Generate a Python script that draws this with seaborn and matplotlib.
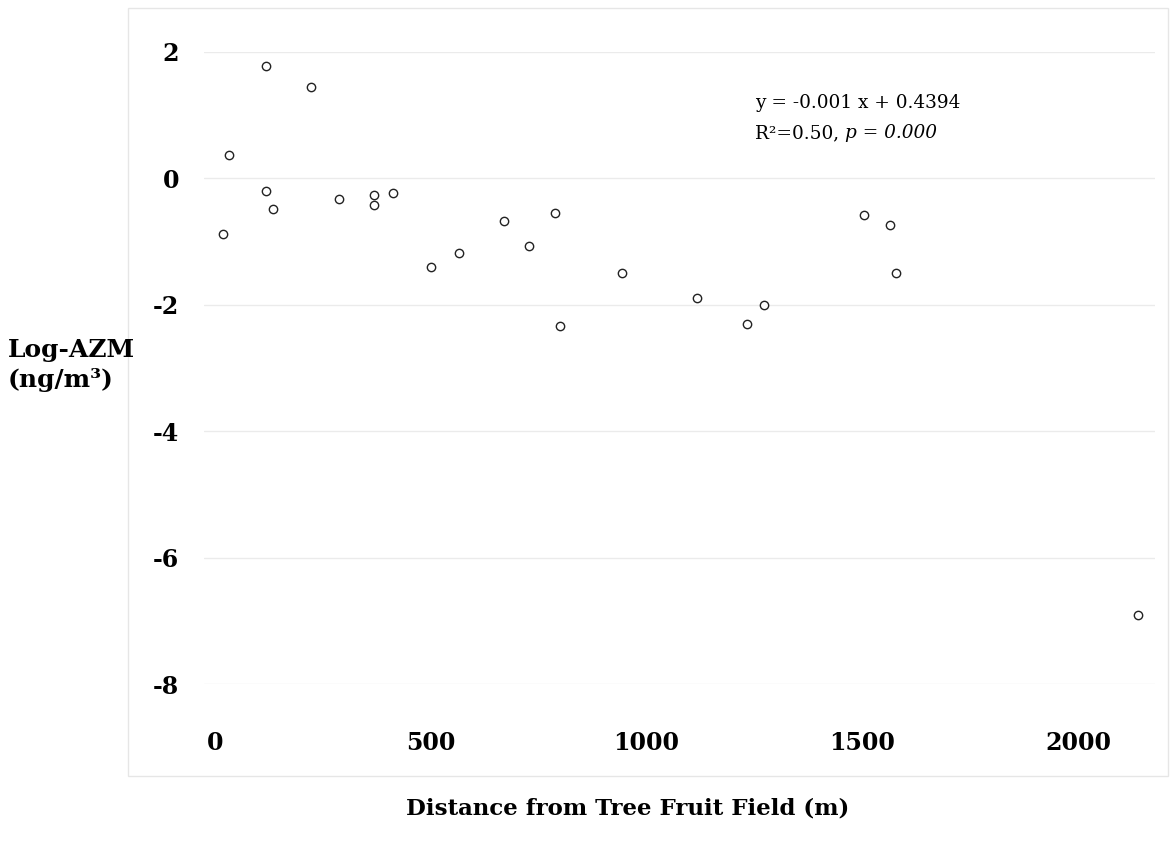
import matplotlib
matplotlib.use("Agg")
import matplotlib.pyplot as plt
import seaborn as sns
import pandas as pd
from matplotlib.patches import Rectangle

# Data
distance_m = [19, 32, 118, 118, 134, 223, 287, 368, 368, 413, 502, 566, 671, 729,
              789, 800, 944, 1116, 1232, 1272, 1505, 1565, 1579, 2138]
log_azm = [-0.89, 0.36, 1.77, -0.21, -0.49, 1.44, -0.33, -0.27, -0.42, -0.24,
           -1.40, -1.19, -0.67, -1.07, -0.55, -2.34, -1.50, -1.89, -2.30, -2.01,
           -0.59, -0.74, -1.50, -6.91]
x_ticks = [0, 500, 1000, 1500, 2000]
y_ticks = [2, 0, -2, -4, -6, -8]

df = pd.DataFrame({"distance": distance_m, "logazm": log_azm})

sns.set_style("white")
plt.rcParams["font.family"] = ["DejaVu Serif", "DejaVu Sans"]
plt.rcParams["text.color"] = "black"
plt.rcParams["xtick.color"] = "black"
plt.rcParams["ytick.color"] = "black"

W, H = 1170, 850
fig = plt.figure(figsize=(W / 100, H / 100), dpi=100)

# outer chart border
fig.patches.append(Rectangle((128 / W, 1 - 776 / H), (1168 - 128) / W, (776 - 8) / H,
                             transform=fig.transFigure, fill=False,
                             edgecolor="#e6e6e6", linewidth=1))

ax = fig.add_axes([204 / W, 1 - 684 / H, (1155 - 204) / W, (684 - 51.7) / H])
sns.scatterplot(data=df, x="distance", y="logazm", ax=ax, marker="o", s=36,
                facecolor="white", edgecolor="#222222", linewidth=1.0, zorder=3)

ax.set_xlim(-25, 2178)
ax.set_ylim(-8, 2)
ax.set_xticks(x_ticks)
ax.set_yticks(y_ticks)
ax.set_xticklabels([str(v) for v in x_ticks], fontsize=17, fontweight="bold", color="black")
ax.set_yticklabels([str(v) for v in y_ticks], fontsize=17, fontweight="bold", color="black")
ax.tick_params(axis="x", length=0, pad=34)
ax.tick_params(axis="y", length=0, pad=18)
ax.yaxis.grid(True, color="#ebebeb", linewidth=1)
ax.xaxis.grid(False)
for sp in ax.spines.values():
    sp.set_visible(False)
ax.set_xlabel("")
ax.set_ylabel("")

fig.text(628 / W, 1 - 808 / H, "Distance from Tree Fruit Field (m)", fontsize=16.5,
         fontweight="bold", ha="center", va="center", color="black")
fig.text(8 / W, 1 - 365 / H, "Log-AZM\n(ng/m³)", fontsize=18, fontweight="bold",
         ha="left", va="center", linespacing=1.35, color="black")

fig.text(755 / W, 1 - 103 / H, "y = -0.001 x + 0.4394", fontsize=13.3,
         ha="left", va="center", color="black")
t1 = fig.text(755 / W, 1 - 133 / H, "R²=0.50, ", fontsize=13.3, ha="left", va="center",
              color="black")
fig.canvas.draw()
bb = t1.get_window_extent()
fig.text(bb.x1 / W, 1 - 133 / H, "p = 0.000", fontsize=13.3, style="italic",
         ha="left", va="center", color="black")

fig.savefig("out.png", dpi=100)
